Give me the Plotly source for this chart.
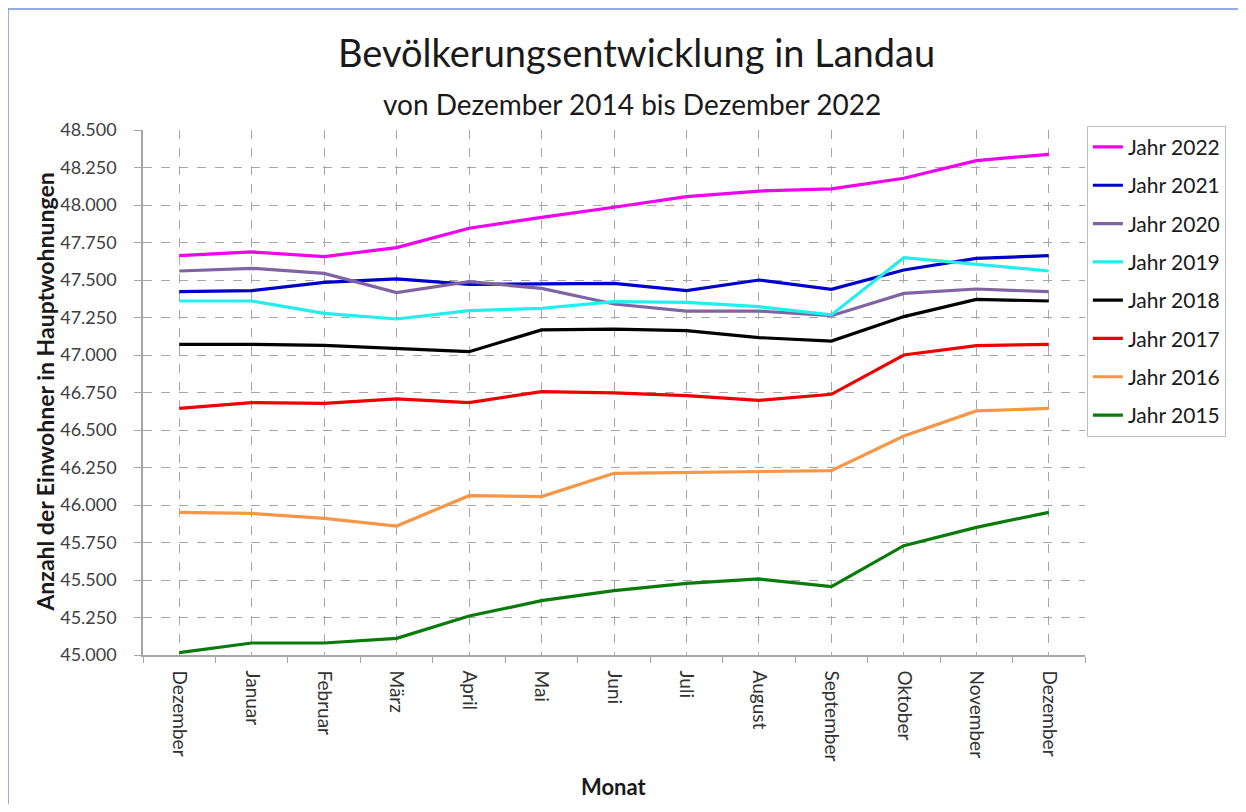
import plotly.graph_objects as go

# Monate von Dezember 2014 bis Dezember 2022 (jeweils Dez. Vorjahr bis Dez.)
months = ["Dezember", "Januar", "Februar", "März", "April", "Mai", "Juni",
          "Juli", "August", "September", "Oktober", "November", "Dezember"]

jahr_2022 = [47662, 47687, 47656, 47716, 47845, 47918, 47985, 48056, 48093, 48107, 48178, 48296, 48338]
jahr_2021 = [47422, 47429, 47484, 47507, 47471, 47473, 47478, 47429, 47500, 47438, 47567, 47644, 47662]
jahr_2020 = [47560, 47578, 47544, 47416, 47489, 47444, 47340, 47293, 47293, 47262, 47411, 47440, 47422]
jahr_2019 = [47360, 47360, 47278, 47240, 47296, 47311, 47356, 47351, 47322, 47267, 47649, 47607, 47560]
jahr_2018 = [47071, 47071, 47064, 47044, 47022, 47167, 47173, 47162, 47116, 47093, 47256, 47371, 47360]
jahr_2017 = [46644, 46682, 46678, 46707, 46682, 46756, 46747, 46729, 46698, 46738, 47000, 47062, 47071]
jahr_2016 = [45951, 45944, 45911, 45860, 46062, 46056, 46211, 46216, 46222, 46229, 46460, 46627, 46644]
jahr_2015 = [45016, 45080, 45080, 45111, 45260, 45362, 45429, 45478, 45507, 45456, 45729, 45851, 45951]

series = [
    ("Jahr 2022", jahr_2022, "#f000f0"),
    ("Jahr 2021", jahr_2021, "#0000cc"),
    ("Jahr 2020", jahr_2020, "#8064a2"),
    ("Jahr 2019", jahr_2019, "#22eeee"),
    ("Jahr 2018", jahr_2018, "#000000"),
    ("Jahr 2017", jahr_2017, "#ee0000"),
    ("Jahr 2016", jahr_2016, "#f79646"),
    ("Jahr 2015", jahr_2015, "#0a7a0a"),
]

x_pos = list(range(len(months)))
font = "Lato, 'Open Sans', sans-serif"
grid = "#a6a6a6"

fig = go.Figure()
for name, values, color in series:
    fig.add_trace(go.Scatter(
        x=x_pos, y=values, name=name, legendgroup=name,
        mode="lines", line=dict(color=color, width=3.2),
    ))

# page body adds an 8px offset, so the figure is a bit smaller than the window
fig.update_layout(
    width=1230, height=796,
    margin=dict(l=135, r=153, t=122, b=149),
    paper_bgcolor="white", plot_bgcolor="white",
    separators=",.",
    font=dict(family=font, color="#404040"),
    showlegend=True,
    legend=dict(
        x=1.002, y=1.008, xanchor="left", yanchor="top",
        bordercolor="#bfbfbf", borderwidth=1,
        font=dict(family=font, size=21, color="#1a1a1a"),
        traceorder="grouped", tracegroupgap=8,
    ),
    xaxis=dict(
        range=[-0.5, len(months) - 0.5],
        tickmode="array", tickvals=x_pos, ticktext=months,
        tickangle=90, ticks="", ticklabelstandoff=10,
        tickfont=dict(size=19, color="#333333"),
        showgrid=True, gridcolor=grid, griddash="dash", gridwidth=1,
        showline=True, linecolor=grid, linewidth=1.5,
        zeroline=False,
        minor=dict(tickmode="array", tickvals=[i - 0.5 for i in range(len(months) + 1)],
                   ticks="outside", ticklen=6, tickcolor=grid, showgrid=False),
    ),
    yaxis=dict(
        range=[45000, 48500], dtick=250, tick0=45000, tickformat=",d",
        ticks="outside", ticklen=7, tickcolor=grid, ticklabelstandoff=14,
        tickfont=dict(size=18, color="#404040"),
        showgrid=True, gridcolor=grid, griddash="dash", gridwidth=1,
        showline=True, linecolor=grid, linewidth=1.5,
        zeroline=False,
    ),
    annotations=[
        dict(text="Bevölkerungsentwicklung in Landau", x=0.5244, y=1.1486,
             xref="paper", yref="paper", showarrow=False, yanchor="middle",
             font=dict(family=font, size=38, color="#1a1a1a")),
        dict(text="von Dezember 2014 bis Dezember 2022", x=0.519, y=1.0495,
             xref="paper", yref="paper", showarrow=False, yanchor="middle",
             font=dict(family=font, size=28, color="#1a1a1a")),
        dict(text="<b>Anzahl der Einwohner in Hauptwohnungen</b>", x=-0.105, y=0.5,
             xref="paper", yref="paper", showarrow=False, textangle=-90,
             xanchor="center", yanchor="middle",
             font=dict(family=font, size=23, color="#1a1a1a")),
        dict(text="<b>Monat</b>", x=0.5, y=-0.2514,
             xref="paper", yref="paper", showarrow=False, yanchor="middle",
             font=dict(family=font, size=22, color="#1a1a1a")),
    ],
    shapes=[
        dict(type="line", xref="paper", yref="paper", x0=-0.1433, x1=-0.1433,
             y0=1.2305, y1=-0.3, line=dict(color="#6c94d8", width=1.5)),
        dict(type="line", xref="paper", yref="paper", x0=-0.1433, x1=1.1645,
             y0=1.2305, y1=1.2305, line=dict(color="#6c94d8", width=1.5)),
    ],
)

fig.write_html("out.html")
